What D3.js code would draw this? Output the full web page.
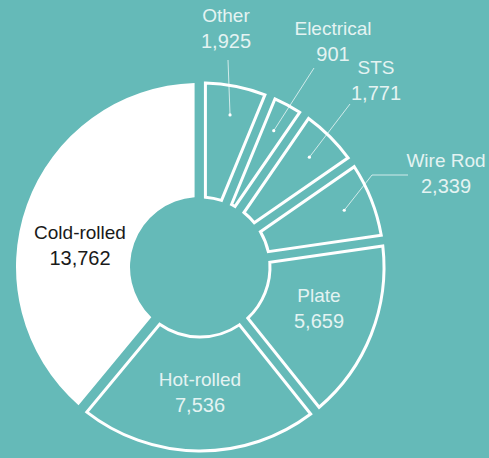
<!DOCTYPE html>
<html lang="en">

<head>
    <meta charset="utf-8">
    <title>D3: steel products donut</title>
    <script type="text/javascript" src="https://cdn.jsdelivr.net/npm/d3@7"></script>
    <style type="text/css">
        body {
            margin: 0;
            background: #65bab8;
        }

        svg {
            display: block;
        }

        text {
            font-family: "Helvetica Neue", Helvetica, Arial, "Liberation Sans", sans-serif;
        }
    </style>
</head>

<body>
    <script type="text/javascript">
        // values as printed on the chart, clockwise from 12 o'clock
        var categories = ["Other", "Electrical", "STS", "Wire Rod", "Plate", "Hot-rolled", "Cold-rolled"];
        var values = [1925, 901, 1771, 2339, 5659, 7536, 13762];
        var highlighted = "Cold-rolled";

        // where the name/number pair sits (centre x, name baseline)
        var labelPos = [[226, 22], [333, 35], [376, 74], [446, 167], [319, 302], [200, 386], [80, 239]];
        // leader line points from the label towards the slice (null = label sits inside)
        var leaderFrom = [[[228, 60]], [[314, 68]], [[350, 104]], [[408, 175], [372, 175]], null, null, null];

        var w = 489;
        var h = 458;
        var cx = 200;
        var cy = 267;
        var innerR = 70;
        var outerR = 184;
        var bg = "#65bab8";

        var data = categories.map(function (c, i) {
            return { name: c, value: values[i] };
        });

        var pie = d3.pie()
            .sort(null)
            .value(function (d) { return d.value; })
            .padAngle(0.055);

        var arc = d3.arc()
            .innerRadius(innerR)
            .outerRadius(outerR);

        var fmt = d3.format(",");

        //Create SVG element
        var svg = d3.select("body")
            .append("svg")
            .attr("width", w)
            .attr("height", h);

        svg.append("rect")
            .attr("width", w)
            .attr("height", h)
            .attr("fill", bg);

        var g = svg.append("g")
            .attr("transform", "translate(" + cx + "," + cy + ")");

        var arcs = pie(data);

        g.selectAll("path")
            .data(arcs)
            .enter().append("path")
            .attr("d", arc)
            .attr("fill", function (d) { return d.data.name === highlighted ? "#ffffff" : bg; })
            .attr("stroke", function (d) { return d.data.name === highlighted ? "none" : "#ffffff"; })
            .attr("stroke-width", 3)
            .attr("stroke-linejoin", "miter");

        // leader lines + dots for the small slices
        arcs.forEach(function (d, i) {
            if (!leaderFrom[i]) return;
            var mid = (d.startAngle + d.endAngle) / 2;
            var p = d3.pointRadial(mid, 155);
            var pts = leaderFrom[i].concat([[cx + p[0], cy + p[1]]]);
            svg.append("path")
                .attr("d", d3.line()(pts))
                .attr("fill", "none")
                .attr("stroke", "rgba(255,255,255,0.7)")
                .attr("stroke-width", 1);
            svg.append("circle")
                .attr("cx", cx + p[0])
                .attr("cy", cy + p[1])
                .attr("r", 1.6)
                .attr("fill", "#ffffff");
        });

        // labels
        var labels = svg.selectAll("g.label")
            .data(arcs)
            .enter().append("g")
            .attr("class", "label")
            .attr("text-anchor", "middle")
            .attr("fill", function (d) { return d.data.name === highlighted ? "#1a1a1a" : "#e4f3f2"; });

        labels.append("text")
            .attr("x", function (d, i) { return labelPos[i][0]; })
            .attr("y", function (d, i) { return labelPos[i][1]; })
            .attr("font-size", 19)
            .text(function (d) { return d.data.name; });

        labels.append("text")
            .attr("x", function (d, i) { return labelPos[i][0]; })
            .attr("y", function (d, i) { return labelPos[i][1] + 26; })
            .attr("font-size", 20)
            .text(function (d) { return fmt(d.data.value); });
    </script>
</body>

</html>
